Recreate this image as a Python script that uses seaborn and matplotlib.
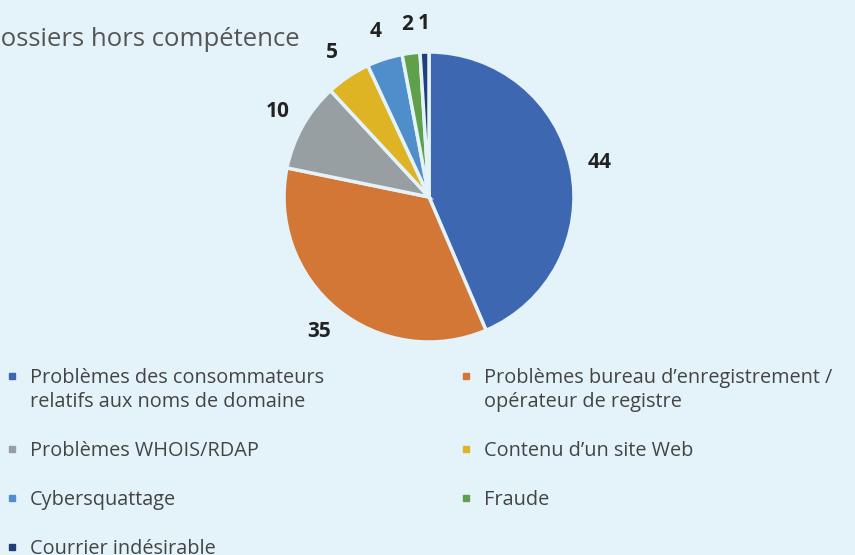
import matplotlib
matplotlib.use("Agg")
import matplotlib.pyplot as plt
import seaborn as sns
from matplotlib.lines import Line2D

categories = [
    "Problèmes des consommateurs\nrelatifs aux noms de domaine",
    "Problèmes bureau d’enregistrement /\nopérateur de registre",
    "Problèmes WHOIS/RDAP",
    "Contenu d’un site Web",
    "Cybersquattage",
    "Fraude",
    "Courrier indésirable",
]
values = [44, 35, 10, 5, 4, 2, 1]
colors = ["#3E67B1", "#D27735", "#979FA2", "#DFB424", "#4F8ECA", "#60A04A", "#213F78"]
title = "Dossiers hors compétence"

BG = "#E4F3FA"
sns.set_theme(style="white")
plt.rcParams["font.family"] = ["Open Sans", "DejaVu Sans"]

W, H = 855, 555
fig = plt.figure(figsize=(W / 100, H / 100), dpi=100, facecolor=BG)

cx, cy, r = 429, 197, 145
ax = fig.add_axes([(cx - r) / W, (H - cy - r) / H, 2 * r / W, 2 * r / H])
ax.set_facecolor(BG)
total = sum(values)
wedges, texts, autotexts = ax.pie(
    values, colors=colors, startangle=90, counterclock=False,
    wedgeprops=dict(edgecolor=BG, linewidth=2.5),
    autopct=lambda p: f"{round(p * total / 100)}", pctdistance=1.2,
    textprops=dict(fontsize=15, fontweight="bold", color="#222222"),
)
ax.set_xlim(-1, 1)
ax.set_ylim(-1, 1)
ax.set_aspect("equal")
ax.axis("off")

fig.text(300 / W, 1 - 40 / H, title, ha="right", va="center",
         fontsize=18.5, color="#555555")

# Legend laid out row by row (two columns, Excel-like row-major order);
# each visual line is one legend row so the marker sits on the first line.
blank = Line2D([], [], linestyle="none", marker="none")


def column(idx_list, n_rows):
    hs, ls = [], []
    for k, i in enumerate(idx_list):
        lines = categories[i].split("\n")
        hs.append(Line2D([], [], marker="s", linestyle="none", markersize=5,
                         markerfacecolor=colors[i], markeredgecolor=colors[i]))
        ls.append(lines[0])
        for extra in lines[1:]:
            hs.append(blank)
            ls.append(extra)
        if k < len(idx_list) - 1:
            hs.append(blank)
            ls.append(" ")
    while len(hs) < n_rows:
        hs.append(blank)
        ls.append(" ")
    return hs, ls


h1, l1 = column([0, 2, 4, 6], 8)
h2, l2 = column([1, 3, 5], 8)
fs = 14.3
leg = fig.legend(h1 + h2, l1 + l2, ncol=2, loc="upper left",
                 bbox_to_anchor=(6.5 / W, 1 - 368 / H), frameon=False,
                 fontsize=fs, labelcolor="#444444", handlelength=0.6,
                 handletextpad=0.58, labelspacing=0.22, columnspacing=6.85,
                 borderpad=0, borderaxespad=0)

fig.savefig("out.png", dpi=100, facecolor=BG)
